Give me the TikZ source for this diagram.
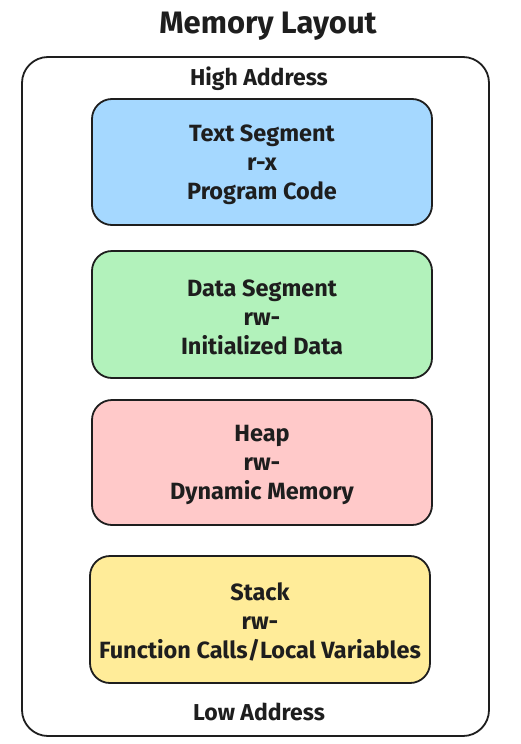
\documentclass[tikz,border=0pt]{standalone}
\usepackage{fontspec}
\setmainfont{Fira Sans}
\definecolor{inkc}{HTML}{1E1E1E}
\definecolor{blueseg}{HTML}{A5D8FF}
\definecolor{greenseg}{HTML}{B2F2BB}
\definecolor{redseg}{HTML}{FFC9C9}
\definecolor{yellowseg}{HTML}{FFEC99}
\begin{document}
\begin{tikzpicture}[x=1pt,y=-1pt,
  segbox/.style={draw=inkc,line width=1.8pt,rounded corners=20pt,minimum width=340pt,minimum height=126pt,inner sep=0pt},
  segtext/.style={inner sep=0pt,align=center,text=inkc,font=\bfseries\fontsize{23.5}{29}\selectfont},
  lbl/.style={text=inkc,inner sep=0pt,font=\bfseries\fontsize{23}{26}\selectfont}]
\useasboundingbox (0,0) rectangle (521,744);
\node[text=inkc,inner sep=0pt,font=\bfseries\fontsize{31}{36}\selectfont] (title) at (268,26) {Memory Layout};
\node[draw=inkc,line width=1.8pt,rounded corners=26pt,minimum width=467pt,minimum height=679pt,inner sep=0pt] (outer) at (255.5,396.5) {};
\node[lbl] (high) at (259,78.5) {High Address};
\node[segbox,fill=blueseg] (text) at (262,162) {};
\node[segtext] (texttxt) at (262,164.5) {Text Segment\\r-x\\Program Code};
\node[segbox,fill=greenseg,minimum height=127pt] (data) at (262,314.5) {};
\node[segtext] (datatxt) at (262,317) {Data Segment\\rw-\\Initialized Data};
\node[segbox,fill=redseg,minimum height=125pt] (heap) at (262,462.5) {};
\node[segtext] (heaptxt) at (262,465) {Heap\\rw-\\Dynamic Memory};
\node[segbox,fill=yellowseg,minimum height=127pt] (stack) at (260,619.5) {};
\node[segtext] (stacktxt) at (260,622) {Stack\\rw-\\Function Calls/Local Variables};
\node[lbl] (low) at (259,712) {Low Address};
\end{tikzpicture}
\end{document}
